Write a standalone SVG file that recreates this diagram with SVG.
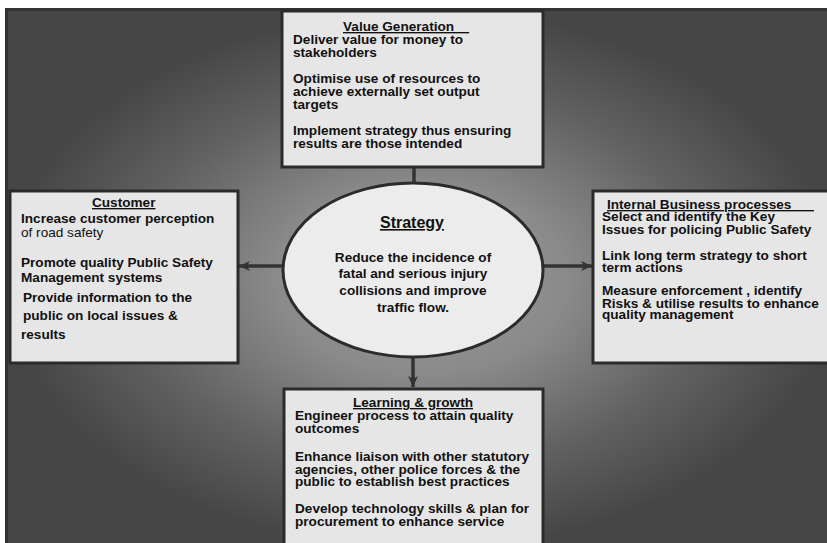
<svg xmlns="http://www.w3.org/2000/svg" width="827" height="543" viewBox="0 0 827 543">
<defs>
<radialGradient id="bg" cx="0.5" cy="0.5" r="0.5">
<stop offset="0" stop-color="#9c9c9c"/>
<stop offset="0.35" stop-color="#8a8a8a"/>
<stop offset="0.7" stop-color="#616161"/>
<stop offset="1" stop-color="#464646"/>
</radialGradient>
<marker id="ah" markerUnits="userSpaceOnUse" markerWidth="11" markerHeight="10" refX="11" refY="5" orient="auto">
<path d="M0,0 L11,5 L0,10 L3,5 z" fill="#333"/>
</marker>
<style>
.box{fill:#e6e6e6;stroke:#2b2b2b;stroke-width:3}
.t{font-family:"Liberation Sans",Arial,sans-serif;font-size:13.6px;font-weight:bold;fill:#111}
.n{font-weight:normal}
.h{text-decoration:underline}
.c{text-anchor:middle}
.con{stroke:#333;stroke-width:3.5;fill:none}
</style>
</defs>
<rect x="0" y="0" width="827" height="543" fill="#ffffff"/>
<rect x="6.5" y="9.5" width="830" height="540" fill="url(#bg)" stroke="#333" stroke-width="3"/>

<g id="connectors">
<line class="con" x1="414" y1="167" x2="414" y2="184"/>
<line class="con" x1="413" y1="357" x2="413" y2="387" marker-end="url(#ah)"/>
<line class="con" x1="284" y1="266" x2="239" y2="266" marker-end="url(#ah)"/>
<line class="con" x1="542" y1="266" x2="592" y2="266" marker-end="url(#ah)"/>
</g>

<g id="value-generation">
<rect class="box" x="282" y="11" width="261" height="156"/>
<text class="t h" x="343" y="31">Value Generation&#160;&#160;&#160;&#160;</text>
<text class="t" x="293" y="44"><tspan x="293" y="44">Deliver value for money to</tspan><tspan x="293" y="57">stakeholders</tspan><tspan x="293" y="83">Optimise use of resources to</tspan><tspan x="293" y="96">achieve externally set output</tspan><tspan x="293" y="109">targets</tspan><tspan x="293" y="135">Implement strategy thus ensuring</tspan><tspan x="293" y="148">results are those intended</tspan></text>
</g>

<g id="customer">
<rect class="box" x="10" y="191" width="228" height="172"/>
<text class="t h" x="92" y="207">Customer</text>
<text class="t" x="21" y="223"><tspan x="21" y="223">Increase customer perception</tspan><tspan class="n" x="21" y="237">of road safety</tspan><tspan x="21" y="267">Promote quality Public Safety</tspan><tspan x="21" y="282">Management systems</tspan><tspan x="23" y="302">Provide information to the</tspan><tspan x="23" y="320">public on local issues &amp;</tspan><tspan x="21" y="339">results</tspan></text>
</g>

<g id="internal-business">
<rect class="box" x="593" y="191" width="240" height="172"/>
<text class="t h" x="607" y="209">Internal Business processes&#160;&#160;&#160;&#160;&#160;&#160;</text>
<text class="t" x="602" y="221"><tspan x="602" y="221">Select and identify the Key</tspan><tspan x="602" y="234">Issues for policing Public Safety</tspan><tspan x="602" y="260">Link long term strategy to short</tspan><tspan x="602" y="272">term actions</tspan><tspan x="602" y="295">Measure enforcement , identify</tspan><tspan x="602" y="308">Risks &amp; utilise results to enhance</tspan><tspan x="602" y="319">quality management</tspan></text>
</g>

<g id="learning-growth">
<rect class="box" x="284" y="389" width="259" height="160"/>
<text class="t h c" x="413" y="407">Learning &amp; growth</text>
<text class="t" x="295" y="420"><tspan x="295" y="420">Engineer process to attain quality</tspan><tspan x="295" y="433">outcomes</tspan><tspan x="295" y="461">Enhance liaison with other statutory</tspan><tspan x="295" y="474">agencies, other police forces &amp; the</tspan><tspan x="295" y="486">public to establish best practices</tspan><tspan x="295" y="513">Develop technology skills &amp; plan for</tspan><tspan x="295" y="526">procurement to enhance service</tspan></text>
</g>

<g id="strategy">
<ellipse cx="413" cy="270" rx="130" ry="87" fill="#ececec" stroke="#2b2b2b" stroke-width="3"/>
<text class="t h c" x="412" y="228" style="font-size:16px">Strategy</text>
<text class="t c" x="413" y="262"><tspan x="413" y="262">Reduce the incidence of</tspan><tspan x="413" y="278">fatal and serious injury</tspan><tspan x="413" y="295">collisions and improve</tspan><tspan x="413" y="312">traffic flow.</tspan></text>
</g>
</svg>
